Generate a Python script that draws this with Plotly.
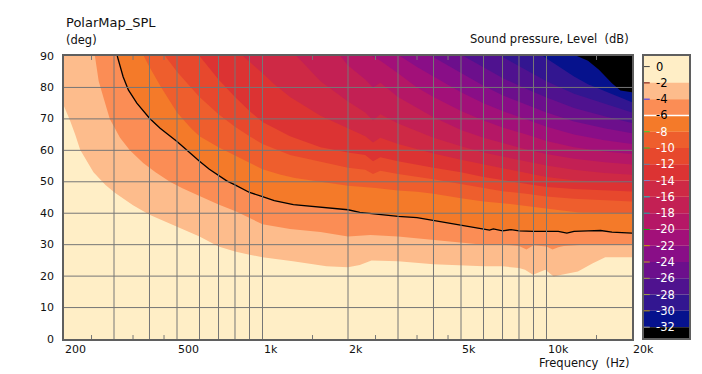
import math
import plotly.graph_objects as go

FONT = "DejaVu Sans"

# ---------------- axis data ----------------
F_MIN, F_MAX = 200, 20000
ANG_MIN, ANG_MAX = 0, 90
X_TICK_VALS = [200, 500, 1000, 2000, 5000, 10000, 20000]
X_TICK_TEXT = ["200", "500", "1k", "2k", "5k", "10k", "20k"]
X_GRID = [300, 400, 500, 600, 700, 800, 900, 1000, 2000, 3000, 4000,
          5000, 6000, 7000, 8000, 9000, 10000]
X_MINOR = [250, 350, 450, 1500, 2500, 3500, 4500, 15000]
Y_TICKS = [0, 10, 20, 30, 40, 50, 60, 70, 80, 90]
Y_GRID = [10, 20, 30, 40, 50, 60, 70, 80]

# ---------------- colour scale (dB) ----------------
LEVELS = [0, -2, -4, -6, -8, -10, -12, -14, -16, -18, -20, -22, -24, -26, -28, -30, -32]
CB_TOP, CB_BOTTOM = 1.3, -33.35
BAND_COLORS = ["#FFEEC6", "#FDBC8C", "#FB8D55", "#F47A29", "#EE5E2D", "#E7482D",
               "#DC3333", "#CE2945", "#C32054", "#B51766", "#A21079", "#890E87",
               "#6C0F8C", "#4F128F", "#321690", "#06128D", "#000000"]
LABEL_COLORS = ["#000000"] * 4 + ["#FFFFFF"] * 13
TICK_MARK_COLORS = ["#404040", "#700000", "#3030ff", "#FFFFFF", "#30d030", "#30c030",
                    "#6080a0", "#8080c8", "#00c8c8", "#00a8a8", "#00b000", "#c8a000",
                    "#c0a020", "#a0a040", "#a0a040", "#b09000", "#a0a0a0"]

# ---------------- contour boundaries: angle (deg) vs frequency (Hz) ----------------
F_M2 = [200, 210, 219, 228, 254, 280, 302, 350, 400, 450, 500, 600, 700, 800, 900, 1000,
        1280, 1680, 2000, 2200, 2420, 3000, 4000, 5000, 6000, 7000, 8000, 8400, 8960,
        9900, 10600, 11300, 12900, 14500, 16100, 20000]
A_M2 = [74.0, 69.5, 65.0, 60.2, 53.0, 49.0, 46.5, 42.5, 39.5, 37.5, 35.8, 32.6, 29.4,
        27.8, 26.8, 26.0, 24.7, 23.1, 22.8, 23.5, 25.0, 24.7, 23.8, 23.3, 23.1, 23.1,
        22.6, 22.0, 20.4, 22.0, 19.9, 20.4, 21.5, 24.0, 26.0, 26.0]

F_M4 = [257, 265, 277, 290, 315, 341, 380, 420, 472, 520, 600, 652, 700, 800, 900,
        1000, 1250, 1600, 2000, 2400, 3000, 4000, 5000, 6000, 7000, 8000, 8500, 9000,
        10000, 10500, 11000, 11500, 13500, 20000]
A_M4 = [90, 82, 76, 70, 64, 60, 56, 53, 50, 48, 45.5, 44, 42.8, 40.7, 38.6,
        36.5, 35.0, 34.0, 32.6, 33.1, 32.6, 31.6, 30.7, 30.0, 30.0, 29.6, 28.5, 29.8,
        29.4, 28.5, 29.2, 29.6, 30.0, 30.0]

F_M6 = [308, 323, 337, 361, 400, 436, 500, 541, 600, 650, 700, 748, 800, 900, 1000,
        1100, 1284, 1600, 2000, 2200, 2600, 3000, 3500, 4000, 4500, 5000, 5500, 6000,
        6300, 6500, 7000, 7500, 8000, 9000, 10000, 11000, 11800, 12500, 14000, 15500,
        17000, 20000]
A_M6 = [90, 83.4, 79.2, 75, 70.2, 67, 62.8, 60, 56.5, 54, 52, 50.3, 49, 46.6, 45.3,
        44.0, 42.7, 42.0, 41.1, 40.3, 39.6, 39.0, 38.6, 37.7, 37.0, 36.3, 35.5, 34.9,
        34.6, 35.0, 34.4, 34.8, 34.4, 34.2, 34.2, 34.2, 33.7, 34.2, 34.4, 34.5, 34.0,
        33.7]

F_M8 = [382, 400, 440, 500, 560, 600, 700, 800, 900, 1000, 1150, 1300, 1600, 2000,
        2500, 3000, 3500, 4000, 5000, 6000, 7000, 8000, 9000, 10000, 11000, 13000,
        16000, 20000]
A_M8 = [90, 86.5, 80, 72, 67, 64.5, 61, 58.3, 56, 54, 52.3, 51.2, 50.0, 48.7, 48.0,
        47.2, 46.8, 46.2, 44.8, 43.7, 43.2, 42.6, 42.1, 41.6, 41.0, 40.2, 40.0, 40.0]

F_M10 = [454, 500, 560, 600, 700, 800, 900, 1000, 1250, 1600, 2000, 2300, 2450, 2600,
         3000, 4000, 5000, 6000, 7000, 8500, 10000, 12500, 16000, 20000]
A_M10 = [90, 85, 80, 77, 71.5, 67.5, 64.5, 62, 58.5, 56.3, 54.5, 53.8, 52.5, 53.5,
         52.5, 50.8, 49.3, 48.0, 47.0, 46.2, 45.3, 44.6, 44.0, 43.7]

F_M12 = [600, 650, 700, 800, 900, 1000, 1250, 1600, 2000, 2300, 2450, 2600, 3000, 4000,
         5000, 6000, 7000, 8500, 10000, 12500, 16000, 20000]
A_M12 = [90, 86, 82.5, 77, 72.5, 69, 64.5, 61, 59.3, 58.5, 56.5, 57.8, 56.5, 54.5, 53,
         51.5, 50.5, 49.3, 48.3, 47.7, 47.2, 46.9]

F_M14 = [854, 950, 1000, 1100, 1250, 1600, 2000, 2300, 2450, 2600, 3000, 4000, 5000,
         6000, 7000, 8500, 10000, 12500, 16000, 20000]
A_M14 = [90, 86.5, 84.5, 81, 77, 71, 67, 64.5, 62.5, 64, 62, 59, 57, 55.5, 54.3, 52.8,
         51.5, 50.5, 49.9, 49.6]

F_M16 = [1318, 1450, 1600, 2000, 2300, 2450, 2600, 3000, 4000, 5000, 6000, 7000, 8500,
         10000, 12500, 16000, 20000]
A_M16 = [90, 86, 82, 75.5, 72, 69.5, 71.5, 68.5, 64, 61.3, 59.3, 58, 56.5, 55.2, 53.8,
         52.8, 52.2]

F_M18 = [1880, 2000, 2300, 2450, 2600, 3000, 4000, 5000, 6000, 7000, 8500, 10000,
         12500, 16000, 20000]
A_M18 = [90, 87, 82.5, 80, 81.5, 77, 70.5, 66.5, 64, 62.3, 60.3, 58.8, 57.3, 56.2, 55.5]

F_M20 = [2420, 2600, 3000, 3500, 4000, 5000, 6000, 7000, 8500, 10000, 12500, 16000, 20000]
A_M20 = [90, 88.5, 84.5, 80, 77, 72.5, 69.5, 67.3, 65, 63, 61, 59.6, 58.8]

F_M22 = [3050, 3500, 4000, 5000, 6000, 7000, 8500, 10000, 12500, 16000, 20000]
A_M22 = [90, 86.5, 83.5, 78.5, 75, 72.5, 69.8, 67.5, 65, 63.2, 62]

F_M24 = [3930, 4500, 5000, 6000, 7000, 8500, 10000, 12500, 16000, 20000]
A_M24 = [90, 87, 84.5, 80.5, 77.5, 74.5, 72, 69.2, 67, 65.4]

F_M26 = [5100, 6000, 7000, 8500, 10000, 12500, 16000, 20000]
A_M26 = [90, 86.5, 83, 79.5, 76.8, 73.5, 70.8, 68.7]

F_M28 = [6900, 8500, 10000, 12500, 16000, 20000]
A_M28 = [90, 85.5, 82, 78, 74.8, 72]

F_M30 = [9700, 11000, 12500, 14000, 16000, 18000, 20000]
A_M30 = [90, 86.8, 83.5, 81, 78.8, 76.8, 75.3]

F_M32 = [12800, 14000, 15300, 17000, 18200, 20000]
A_M32 = [90, 88.5, 85.6, 81.3, 79, 78.5]

BOUNDARIES = [(-2, F_M2, A_M2), (-4, F_M4, A_M4), (-6, F_M6, A_M6), (-8, F_M8, A_M8),
              (-10, F_M10, A_M10), (-12, F_M12, A_M12), (-14, F_M14, A_M14),
              (-16, F_M16, A_M16), (-18, F_M18, A_M18), (-20, F_M20, A_M20),
              (-22, F_M22, A_M22), (-24, F_M24, A_M24), (-26, F_M26, A_M26),
              (-28, F_M28, A_M28), (-30, F_M30, A_M30), (-32, F_M32, A_M32)]

# ---------------- geometry ----------------
W, H = 702, 374
ML, MR, MT, MB = 64, 13, 56, 35
PW, PH = W - ML - MR, H - MT - MB
MAIN_RIGHT = 632
CB_LEFT = 644
GRID_COLOR = "#767676"
BORDER_COLOR = "#5f5f5f"

fig = go.Figure()

# filled contour bands: region above each boundary gets the next band colour
for level, fs, angs in BOUNDARIES:
    idx = LEVELS.index(level)
    xs = list(fs) + [F_MAX, fs[0]]
    ys = list(angs) + [ANG_MAX, ANG_MAX]
    fig.add_trace(go.Scatter(x=xs, y=ys, mode="lines", fill="toself",
                             fillcolor=BAND_COLORS[idx], line=dict(width=0),
                             hoverinfo="skip", xaxis="x", yaxis="y"))

# -6 dB contour line
fig.add_trace(go.Scatter(x=F_M6, y=A_M6, mode="lines",
                         line=dict(color="black", width=1.3),
                         hoverinfo="skip", xaxis="x", yaxis="y"))

# colour bar built as stacked bars
edges = [CB_TOP] + LEVELS[1:] + [CB_BOTTOM]
bases = [edges[i + 1] for i in range(len(BAND_COLORS))]
heights = [edges[i] - edges[i + 1] for i in range(len(BAND_COLORS))]
fig.add_trace(go.Bar(x=[0] * len(BAND_COLORS), y=heights, base=bases, width=1,
                     marker=dict(color=BAND_COLORS, line=dict(width=0)),
                     hoverinfo="skip", xaxis="x2", yaxis="y2"))

# small coloured tick marks on colour bar
mark_levels = [lv for lv in LEVELS if lv != -6]
mark_colors = [c for lv, c in zip(LEVELS, TICK_MARK_COLORS) if lv != -6]
fig.add_trace(go.Scatter(x=[-0.45] * len(mark_levels), y=mark_levels, mode="markers",
                         marker=dict(symbol="line-ew", size=5,
                                     line=dict(color=mark_colors, width=1)),
                         hoverinfo="skip", xaxis="x2", yaxis="y2"))

shapes = []
for f in X_GRID:
    shapes.append(dict(type="line", xref="x", yref="y domain", x0=f, x1=f, y0=0, y1=1,
                       line=dict(color=GRID_COLOR, width=1), layer="above"))
for a in Y_GRID:
    shapes.append(dict(type="line", xref="x domain", yref="y", x0=0, x1=1, y0=a, y1=a,
                       line=dict(color=GRID_COLOR, width=1), layer="above"))
for f in X_MINOR:
    shapes.append(dict(type="line", xref="x", yref="y domain", x0=f, x1=f, y0=0, y1=0.014,
                       line=dict(color=GRID_COLOR, width=1), layer="above"))
    shapes.append(dict(type="line", xref="x", yref="y domain", x0=f, x1=f, y0=0.986, y1=1,
                       line=dict(color=GRID_COLOR, width=1), layer="above"))
# white -6 dB marker on the colour bar
shapes.append(dict(type="line", xref="x2 domain", yref="y2", x0=0, x1=1, y0=-6, y1=-6,
                   line=dict(color="white", width=1.5), layer="above"))

ann = []
def px_x(p):
    return (p - ML) / PW

def px_y(p):
    return 1 - (p - MT) / PH

ann.append(dict(text="PolarMap_SPL", xref="paper", yref="paper", x=px_x(64), y=px_y(22),
                xanchor="left", yanchor="middle", showarrow=False,
                font=dict(size=13, family=FONT, color="#111")))
ann.append(dict(text="(deg)", xref="paper", yref="paper", x=px_x(64), y=px_y(39.5),
                xanchor="left", yanchor="middle", showarrow=False))
ann.append(dict(text="Sound pressure, Level\u00a0 (dB)", xref="paper", yref="paper",
                x=px_x(631), y=px_y(39), xanchor="right", yanchor="middle", showarrow=False))
ann.append(dict(text="Frequency\u00a0 (Hz)", xref="paper", yref="paper",
                x=px_x(631), y=px_y(363), xanchor="right", yanchor="middle", showarrow=False))
for v, t in zip(X_TICK_VALS, X_TICK_TEXT):
    ann.append(dict(text=t, xref="x", yref="paper", x=math.log10(v), y=px_y(349.5),
                    xanchor="left", yanchor="middle", showarrow=False, xshift=-1,
                    font=dict(size=11, family=FONT, color="#111")))
for v in Y_TICKS:
    ann.append(dict(text=str(v), xref="paper", yref="y", x=px_x(56), y=v,
                    xanchor="right", yanchor="middle", showarrow=False,
                    font=dict(size=11, family=FONT, color="#111")))
for lv, col in zip(LEVELS, LABEL_COLORS):
    ann.append(dict(text=str(lv), xref="x2", yref="y2", x=-0.27, y=lv,
                    xanchor="left", yanchor="middle", showarrow=False,
                    font=dict(size=11.5, family=FONT, color=col)))

fig.update_layout(
    width=W, height=H,
    margin=dict(l=ML, r=MR, t=MT, b=MB, pad=0),
    paper_bgcolor="white", plot_bgcolor=BAND_COLORS[0],
    showlegend=False, barmode="overlay",
    font=dict(family=FONT, size=11.5, color="#111"),
    xaxis=dict(type="log", range=[math.log10(F_MIN), math.log10(F_MAX)],
               domain=[0, (MAIN_RIGHT - ML) / PW], showgrid=False, zeroline=False,
               showticklabels=False, ticks="", showline=True, mirror=True,
               linecolor=BORDER_COLOR, linewidth=1.5, layer="above traces", anchor="y"),
    yaxis=dict(range=[ANG_MIN, ANG_MAX], domain=[0, 1], showgrid=False, zeroline=False,
               showticklabels=False, ticks="", showline=True, mirror=True,
               linecolor=BORDER_COLOR, linewidth=1.5, layer="above traces", anchor="x"),
    xaxis2=dict(range=[-0.5, 0.5], domain=[(CB_LEFT - ML) / PW, 1], showgrid=False,
                zeroline=False, showticklabels=False, ticks="", showline=True, mirror=True,
                linecolor=BORDER_COLOR, linewidth=1.5, layer="above traces", anchor="y2"),
    yaxis2=dict(range=[CB_BOTTOM, CB_TOP], domain=[0.003, 1], showgrid=False,
                zeroline=False, showticklabels=False, ticks="", showline=True, mirror=True,
                linecolor=BORDER_COLOR, linewidth=1.5, layer="above traces", anchor="x2"),
    shapes=shapes, annotations=ann,
)

fig.write_html(
    "out.html",
    config={"displayModeBar": False},
    post_script="document.documentElement.style.margin='0';"
                "document.body.style.margin='0';document.body.style.padding='0';"
                "document.body.style.overflow='hidden';",
)
